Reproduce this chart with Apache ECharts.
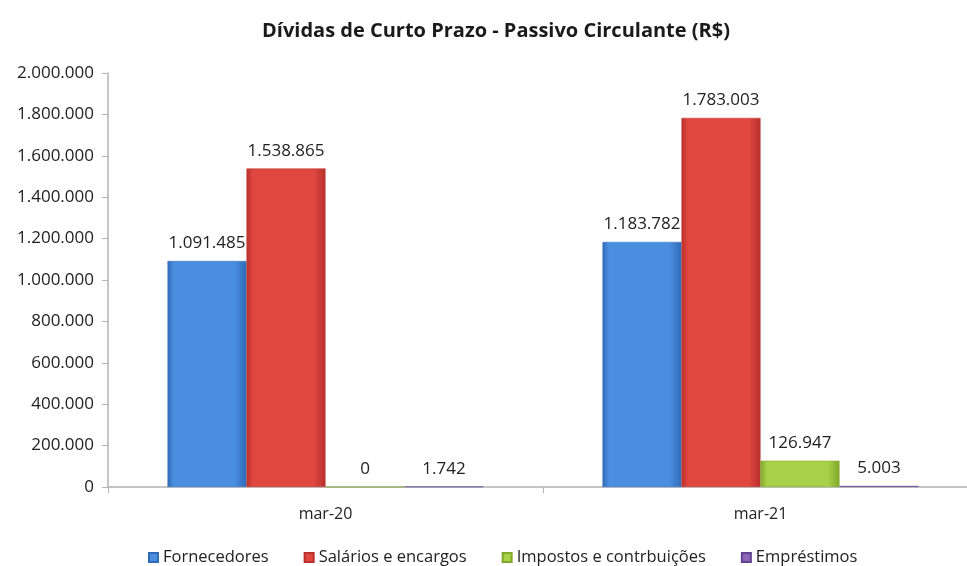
<!DOCTYPE html>
<html lang="pt">
<head>
<meta charset="UTF-8">
<title>Dívidas de Curto Prazo</title>
<script src="https://cdn.jsdelivr.net/npm/echarts@6/dist/echarts.min.js"></script>
<style>
  html, body { margin: 0; padding: 0; background: #fff; overflow: hidden; }
  #wrap { width: 967px; height: 566px; overflow: hidden; }
  #chart { width: 980px; height: 566px; }
</style>
</head>
<body>
<div id="wrap"><div id="chart"></div></div>
<script>
var periods = ['mar-20', 'mar-21'];
var seriesNames = ['Fornecedores', 'Salários e encargos', 'Impostos e contrbuições', 'Empréstimos'];
var fornecedores = [1091485, 1183782];
var salarios = [1538865, 1783003];
var impostos = [0, 126947];
var emprestimos = [1742, 5003];

// cores: [claro, escuro]
var colors = [
    ['#4a8ee0', '#2f6bb8'],
    ['#e0473f', '#b8302c'],
    ['#a8d048', '#7fa82a'],
    ['#8a66b8', '#5f418f']
];

function fmt(v) {
    return String(v).replace(/\B(?=(\d{3})+(?!\d))/g, '.');
}

function grad(c) {
    return new echarts.graphic.LinearGradient(0, 0, 1, 0, [
        { offset: 0, color: c[1] },
        { offset: 0.08, color: c[0] },
        { offset: 0.85, color: c[0] },
        { offset: 1, color: c[1] }
    ]);
}

var chart = echarts.init(document.getElementById('chart'));
var values = [fornecedores, salarios, impostos, emprestimos];

chart.setOption({
    animation: false,
    color: colors.map(function (c) { return c[0]; }),
    textStyle: { fontFamily: '"Open Sans", sans-serif' },
    title: {
        text: 'Dívidas de Curto Prazo - Passivo Circulante (R$)',
        left: 257,
        top: 16,
        textStyle: { fontSize: 20, fontWeight: 'bold', color: '#1a1a1a', fontFamily: '"Open Sans", sans-serif' }
    },
    legend: {
        top: 544,
        left: 143,
        itemWidth: 9,
        itemHeight: 9,
        itemGap: 35,
        icon: 'rect',
        textStyle: { fontSize: 16.5, color: '#222' },
        data: seriesNames
    },
    grid: { left: 108, right: 2, top: 73, bottom: 79, containLabel: false },
    xAxis: {
        type: 'category',
        data: periods,
        axisLine: { lineStyle: { color: '#b3b3b3', width: 1.5 } },
        axisTick: { show: true, length: 6, lineStyle: { color: '#b3b3b3' } },
        axisLabel: { fontSize: 16, color: '#222', margin: 19 }
    },
    yAxis: {
        type: 'value',
        min: 0,
        max: 2000000,
        interval: 200000,
        axisLine: { show: true, lineStyle: { color: '#b3b3b3', width: 1.5 } },
        axisTick: { show: true, length: 6, lineStyle: { color: '#b3b3b3' } },
        splitLine: { show: false },
        axisLabel: { fontSize: 17, color: '#222', margin: 14, formatter: fmt }
    },
    series: seriesNames.map(function (name, i) {
        return {
            name: name,
            type: 'bar',
            data: values[i],
            barWidth: 79,
            barGap: '0%',
            itemStyle: { color: grad(colors[i]), borderColor: colors[i][1], borderWidth: 0.5 },
            label: {
                show: true,
                position: 'top',
                distance: 9,
                fontSize: 17,
                color: '#222',
                formatter: function (p) { return fmt(p.value); }
            }
        };
    })
});
</script>
</body>
</html>
